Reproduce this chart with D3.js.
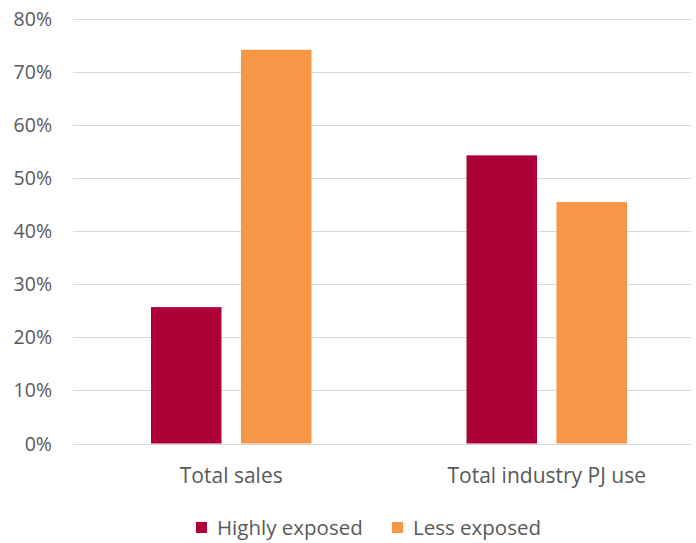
<!DOCTYPE html>
<html>
<head>
<meta charset="utf-8">
<script src="https://cdn.jsdelivr.net/npm/d3@7"></script>
<style>
  body { margin: 0; background: #fff; }
  text { font-family: "Open Sans", sans-serif; fill: #595959; }
</style>
</head>
<body>
<svg id="chart"></svg>
<script>
const categories = ['Total sales', 'Total industry PJ use'];
const seriesNames = ['Highly exposed', 'Less exposed'];
const highlyExposed = [0.257, 0.543];
const lessExposed = [0.742, 0.455];
const yTicks = [0, 0.1, 0.2, 0.3, 0.4, 0.5, 0.6, 0.7, 0.8];

const colors = ['#ac0036', '#f79646'];
const width = 696, height = 543;

const svg = d3.select('#chart')
    .attr('width', width)
    .attr('height', height);

const yScale = d3.scaleLinear()
    .domain([0, 0.8])
    .range([443.5, 19]);

const xScale = d3.scaleBand()
    .domain(categories)
    .range([73.5, 704.5])
    .padding(0);

const xInner = d3.scaleBand()
    .domain(seriesNames)
    .range([0, 160.5])
    .paddingInner(0.2167)
    .paddingOuter(0);

// gridlines
svg.append('g')
    .selectAll('line')
    .data(yTicks)
    .join('line')
    .attr('x1', 73)
    .attr('x2', 691)
    .attr('y1', d => Math.round(yScale(d)) + 0.5)
    .attr('y2', d => Math.round(yScale(d)) + 0.5)
    .attr('stroke', '#d9d9d9')
    .attr('stroke-width', 1);

// y labels
svg.append('g')
    .selectAll('text')
    .data(yTicks)
    .join('text')
    .attr('x', 52)
    .attr('y', d => yScale(d))
    .attr('dy', '0.36em')
    .attr('text-anchor', 'end')
    .style('font-size', '19.5px')
    .text(d3.format('.0%'));

const table = categories.map((c, i) => ({
    category: c,
    values: [highlyExposed[i], lessExposed[i]]
}));

const groups = svg.append('g')
    .selectAll('g')
    .data(table)
    .join('g')
    .attr('transform', d => `translate(${xScale(d.category) + (xScale.bandwidth() - 160.5) / 2}, 0)`);

groups.selectAll('rect')
    .data(d => d.values.map((v, i) => ({series: seriesNames[i], value: v, i})))
    .join('rect')
    .attr('x', d => xInner(d.series))
    .attr('y', d => yScale(d.value))
    .attr('width', xInner.bandwidth())
    .attr('height', d => yScale(0) - yScale(d.value))
    .attr('fill', d => colors[d.i]);

// category labels
svg.append('g')
    .selectAll('text')
    .data(categories)
    .join('text')
    .attr('x', d => xScale(d) + xScale.bandwidth() / 2)
    .attr('y', 483)
    .attr('text-anchor', 'middle')
    .style('font-size', '21px')
    .text(d => d);

// legend
const legendX = [196, 392];
const legend = svg.append('g')
    .selectAll('g')
    .data(seriesNames)
    .join('g')
    .attr('transform', (d, i) => `translate(${legendX[i]}, 528)`);

legend.append('rect')
    .attr('x', 0)
    .attr('y', -6)
    .attr('width', 11)
    .attr('height', 11)
    .attr('fill', (d, i) => colors[i]);

legend.append('text')
    .attr('x', 21)
    .attr('y', 0)
    .attr('dy', '0.35em')
    .style('font-size', '20.5px')
    .text(d => d);
</script>
</body>
</html>
